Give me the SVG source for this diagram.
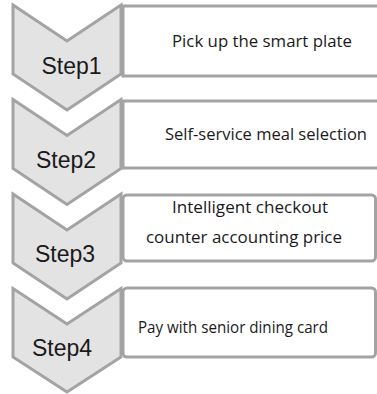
<svg xmlns="http://www.w3.org/2000/svg" width="377" height="394" viewBox="0 0 377 394">
<style>
.chev{fill:#e3e3e3;stroke:#a3a3a3;stroke-width:3;stroke-linejoin:miter}
.box{fill:#ffffff;stroke:#a3a3a3;stroke-width:3}
.step{font-family:"Liberation Sans",Arial,sans-serif;font-size:23px;fill:#1a1a1a}
.lbl{font-family:"Open Sans","Noto Sans",sans-serif;font-size:16px;fill:#1a1a1a}
</style>
<rect width="377" height="394" fill="#ffffff"/>
<g id="connectors"></g>
<g id="step1">
<polygon class="chev" points="13,5 67,41 121,5 121,74 67,110 13,74"/>
<rect class="box" x="123" y="6" width="262" height="70"/>
<text class="step" x="41.5" y="73.5">Step1</text>
<text class="lbl" x="172" y="47" textLength="180" lengthAdjust="spacingAndGlyphs">Pick up the smart plate</text>
</g>
<g id="step2">
<polygon class="chev" points="13,99.5 67,135.5 121,99.5 121,168.5 67,204.5 13,168.5"/>
<rect class="box" x="123" y="101" width="262" height="67"/>
<text class="step" x="36" y="167.5">Step2</text>
<text class="lbl" x="165" y="140" textLength="202" lengthAdjust="spacingAndGlyphs">Self-service meal selection</text>
</g>
<g id="step3">
<polygon class="chev" points="13,194 67,230 121,194 121,263 67,299 13,263"/>
<rect class="box" x="123" y="195" width="252.5" height="66" rx="4"/>
<text class="step" x="35" y="262">Step3</text>
<text class="lbl" x="172" y="213" textLength="156" lengthAdjust="spacingAndGlyphs">Intelligent checkout</text>
<text class="lbl" x="146" y="243" textLength="196" lengthAdjust="spacingAndGlyphs">counter accounting price</text>
</g>
<g id="step4">
<polygon class="chev" points="13,288.5 67,324 121,288.5 121,357 67,392 13,357"/>
<rect class="box" x="123" y="288" width="252.5" height="69" rx="4"/>
<text class="step" x="32" y="356">Step4</text>
<text class="lbl" x="138" y="333" textLength="190" lengthAdjust="spacingAndGlyphs">Pay with senior dining card</text>
</g>
</svg>
